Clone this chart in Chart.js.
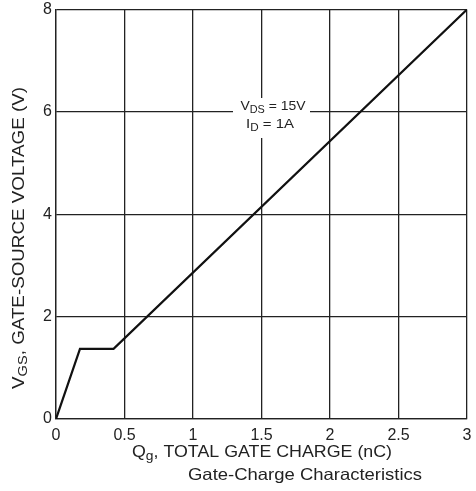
<!DOCTYPE html>
<html>
<head>
<meta charset="utf-8">
<script src="https://cdn.jsdelivr.net/npm/chart.js@4"></script>
<style>
  html, body { margin: 0; padding: 0; background: #fff; }
  #wrap { width: 476px; height: 491px; }
</style>
</head>
<body>
<div id="wrap"><canvas id="c" width="476" height="491"></canvas></div>
<script>
// gate charge curve
const qg = [0, 0.175, 0.42, 3];
const vgs = [0, 1.37, 1.37, 8];
const xTicks = [0, 0.5, 1, 1.5, 2, 2.5, 3];
const yTicks = [0, 2, 4, 6, 8];

const FONT = '"Liberation Sans", Arial, sans-serif';
const INK = '#222';

// text with subscript parts, stretched sideways to a given width
// parts = [[text, isSub], ...]
function subText(ctx, parts, x, y, size, width) {
  let w = 0;
  parts.forEach(p => {
    ctx.font = (p[1] ? size * 0.78 : size) + 'px ' + FONT;
    w += ctx.measureText(p[0]).width;
  });
  const k = width ? width / w : 1;
  ctx.save();
  ctx.translate(x - w * k / 2, y);
  ctx.scale(k, 1);
  ctx.textAlign = 'left';
  ctx.textBaseline = 'middle';
  let cx = 0;
  parts.forEach(p => {
    ctx.font = (p[1] ? size * 0.78 : size) + 'px ' + FONT;
    ctx.fillText(p[0], cx, p[1] ? size * 0.3 : 0);
    cx += ctx.measureText(p[0]).width;
  });
  ctx.restore();
}

const extras = {
  id: 'extras',
  afterDraw(chart) {
    const ctx = chart.ctx;
    ctx.save();

    // annotation box over the grid
    ctx.fillStyle = '#fff';
    ctx.fillRect(233, 98, 77, 40);
    ctx.fillStyle = INK;
    subText(ctx, [['V', false], ['DS', true], [' = 15V', false]], 273, 106, 13.5, 65);
    subText(ctx, [['I', false], ['D', true], [' = 1A', false]], 270, 124, 13.5, 48);

    // x title and caption
    subText(ctx, [['Q', false], ['g', true], [', TOTAL GATE CHARGE (nC)', false]], 262, 452, 16.5, 260);
    subText(ctx, [['Gate-Charge Characteristics', false]], 305, 475, 16.5, 234);

    // y title, rotated
    ctx.translate(19, 238);
    ctx.rotate(-Math.PI / 2);
    subText(ctx, [['V', false], ['GS', true], [', GATE-SOURCE VOLTAGE (V)', false]], 0, 0, 16.5, 302);
    ctx.restore();
  }
};

new Chart(document.getElementById('c'), {
  type: 'scatter',
  data: {
    datasets: [{
      data: qg.map((q, i) => ({ x: q, y: vgs[i] })),
      showLine: true,
      borderColor: '#111',
      borderWidth: 2.2,
      pointRadius: 0,
      tension: 0
    }]
  },
  options: {
    responsive: false,
    animation: false,
    layout: { padding: { left: 0, top: 9.5, right: 9, bottom: 0 } },
    plugins: { legend: { display: false }, tooltip: { enabled: false } },
    scales: {
      x: {
        type: 'linear',
        min: 0, max: 3,
        afterBuildTicks: s => { s.ticks = xTicks.map(v => ({ value: v })); },
        afterFit: s => {
          s.height = 72;
          s.paddingLeft = 0; s.paddingRight = 0;
        },
        grid: { color: INK, lineWidth: 1.3, drawTicks: false },
        border: { color: INK, width: 1.3 },
        ticks: {
          color: INK, padding: 7, maxRotation: 0,
          font: { family: FONT, size: 16 },
          callback: v => String(v)
        }
      },
      y: {
        min: 0, max: 8,
        afterBuildTicks: s => { s.ticks = yTicks.map(v => ({ value: v })); },
        afterFit: s => {
          s.width = 56;
          s.paddingTop = 0; s.paddingBottom = 0;
        },
        grid: { color: INK, lineWidth: 1.3, drawTicks: false },
        border: { color: INK, width: 1.3 },
        ticks: { color: INK, padding: 4, font: { family: FONT, size: 16 } }
      }
    }
  },
  plugins: [extras]
});
</script>
</body>
</html>
